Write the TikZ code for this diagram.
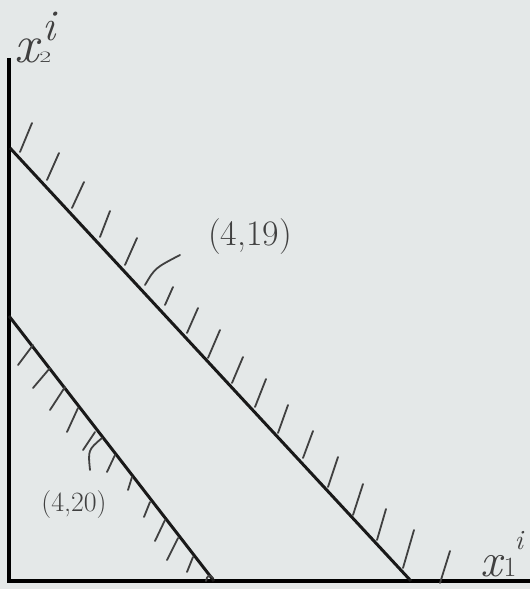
\documentclass[tikz,border=0pt]{standalone}
\usepackage{fontspec}
\usepackage{graphicx}
\begin{document}
\begin{tikzpicture}[x=1bp,y=-1bp,
  axis/.style={line width=4bp,black},
  bound/.style={line width=3bp,black!90},
  hatch/.style={line width=1.8bp,black!75,line cap=round},
  lbl/.style={text=black!75,inner sep=0pt}]
\definecolor{paper}{RGB}{228,232,232}
\fill[paper] (0,0) rectangle (530,589);
\useasboundingbox (0,0) rectangle (530,589);
% axes
\coordinate (top) at (9,58);
\coordinate (orig) at (9,581);
\coordinate (right) at (530,581);
\draw[axis] (top) -- (orig) -- (right);
% upper boundary line
\coordinate (ua) at (10,148);
\coordinate (ub) at (411,581);
\draw[bound] (ua) -- (ub);
% lower boundary line
\coordinate (la) at (9,316);
\coordinate (lb) at (214,581);
\draw[bound] (la) -- (lb);
% hatches of upper line
\foreach \a/\b/\c/\d in {20/152/32/123, 47/180/59/153, 72/208/84/182, 100/237/110/211,
  125/265/137/238, 165/305/173/287, 187/333/198/308, 208/358/220/330, 232/383/243/357,
  255/407/266/379, 278/433/288/405, 303/458/313/431, 328/487/338/457, 353/515/363/484,
  377/540/386/509, 403/568/414/530, 440/583/450/551}
  \draw[hatch] (\a,\b) -- (\c,\d);
\draw[hatch] (145,285) .. controls (155,268) .. (180,255);
% hatches of lower line
\foreach \a/\b/\c/\d in {33/345/18/365, 50/368/33/388, 65/387/50/410, 78/408/67/432,
  95/432/83/450, 115/455/107/472, 132/477/128/490, 150/502/144/517, 165/520/155/541,
  178/538/167/560, 193/557/187/572}
  \draw[hatch] (\a,\b) -- (\c,\d);
\draw[hatch] (102,438) .. controls (88,450) .. (90,470);
\draw[hatch] (206,581) .. controls (207,575) and (210,574) .. (213,578);
% labels
\node[lbl] (l419) at (250,237) {\fontsize{36}{36}\selectfont\addfontfeature{LetterSpace=10}(4,19)};
\node[lbl] (l420) at (74,505) {\fontsize{28}{28}\selectfont\addfontfeature{LetterSpace=15}(4,20)};
\node[lbl,anchor=base west] (x2) at (14,63) {\fontsize{54}{54}\selectfont\itshape x\kern1bp\scalebox{1.3}[0.8]{\fontsize{20}{20}\selectfont\upshape 2}\kern-9bp\raisebox{22bp}{\fontsize{44}{44}\selectfont i}};
\node[lbl,anchor=base west] (x1) at (480,576) {\fontsize{48}{48}\selectfont\itshape x\kern2bp{\fontsize{28}{28}\selectfont\upshape 1}\kern-2bp\raisebox{27bp}{\fontsize{28}{28}\selectfont i}};
\end{tikzpicture}
\end{document}
